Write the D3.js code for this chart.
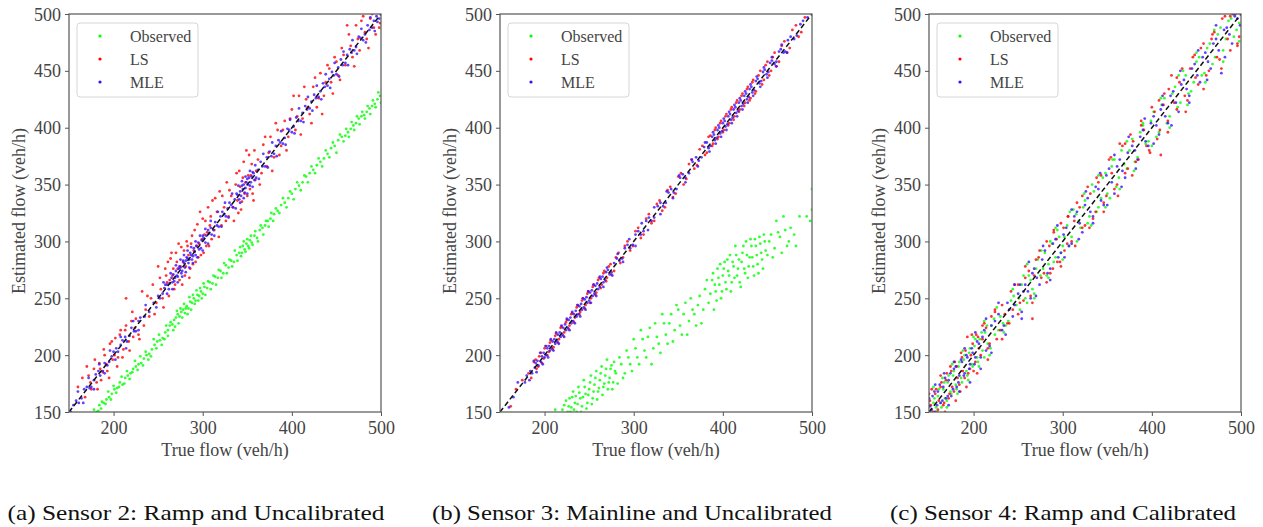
<!DOCTYPE html>
<html><head><meta charset="utf-8">
<script src="https://cdn.jsdelivr.net/npm/d3@7"></script>
<style>
html,body{margin:0;padding:0;background:#fff;}
svg text{font-family:"Liberation Serif","DejaVu Serif",serif;}
</style></head>
<body>
<svg id="chart" width="1263" height="527"></svg>
<script>
// ---- data (flat arrays of [trueFlow, estimatedFlow] pairs) ----
const seriesNames = ["Observed", "LS", "MLE"];
const seriesColors = ["#00ff00", "#ff0000", "#3a10ff"];
const xTicks = [200, 300, 400, 500];
const yTicks = [150, 200, 250, 300, 350, 400, 450, 500];
const captions = ["(a) Sensor 2: Ramp and Uncalibrated", "(b) Sensor 3: Mainline and Uncalibrated", "(c) Sensor 4: Ramp and Calibrated"];

const obsA = [176,148,178,152,181,150,184,156,186,153,189,158,192,161,195,163,198,166,201,170,204,171,207,176,210,174,213,180,216,182,219,184,222,188,225,190,228,192,231,193,234,197,237,200,240,201,243,205,246,209,249,212,252,213,255,215,258,220,261,222,263,226,266,227,268,231,270,233,272,236,274,234,276,238,278,240,280,237,282,243,284,241,286,247,288,246,290,250,292,248,294,253,296,252,298,256,300,254,302,260,305,259,308,264,311,263,314,269,317,268,320,274,323,272,326,279,329,277,332,283,335,282,338,288,341,290,343,287,345,296,347,293,349,298,351,296,353,301,355,299,358,305,361,303,364,310,367,312,370,314,373,318,376,320,380,324,384,327,388,332,392,334,396,338,400,342,404,346,408,349,412,352,416,357,420,360,424,363,428,367,432,370,436,373,440,377,444,382,448,384,452,389,456,392,460,393,463,396,466,399,469,402,472,404,475,408,478,410,481,411,484,414,487,417,490,419,493,421,496,425,499,428,
183,151,187,159,191,157,194,168,197,161,200,173,203,167,206,172,209,181,212,175,215,186,218,179,221,185,224,195,227,187,230,199,233,191,236,203,239,196,242,199,245,214,248,206,251,218,254,209,257,214,259,226,261,217,264,229,267,222,269,225,271,239,273,228,275,241,277,233,279,245,281,241,283,236,285,251,287,240,289,253,291,245,293,257,295,248,297,259,299,250,301,263,303,253,306,265,309,258,312,270,315,262,318,275,321,268,324,281,327,272,330,284,333,278,336,292,339,283,342,295,344,290,346,300,348,291,350,302,352,294,354,305,356,297,359,309,362,300,365,314,368,306,371,318,374,313,377,325,379,318,382,329,386,325,390,338,394,330,398,344,402,337,406,352,410,345,414,358,418,352,422,366,426,360,430,373,434,366,438,380,442,374,446,387,450,378,454,394,458,388,461,399,464,392,467,405,470,398,473,410,476,403,479,414,482,408,485,419,488,412,491,424,494,418,497,431,500,422];
const lsA = [160,172,165,180,168,163,172,182,175,170,178,188,181,176,184,193,186,178,188,185,190,200,193,186,196,210,199,196,202,215,205,198,208,222,211,205,214,226,214,250,217,212,220,230,222,216,225,232,228,218,232,256,236,240,240,234,244,262,248,246,252,268,255,250,258,276,260,264,262,252,264,285,266,270,268,258,270,290,272,276,274,266,276,295,278,282,280,270,282,300,284,288,286,276,288,305,290,292,292,282,294,315,296,298,298,288,300,320,302,306,304,296,306,330,308,314,310,302,314,338,318,304,322,340,326,318,330,345,334,330,338,360,340,325,342,348,344,335,346,370,348,352,350,340,352,376,354,358,356,342,358,380,360,362,364,350,368,385,372,366,376,392,380,374,384,398,388,384,392,406,396,392,400,416,404,398,408,428,412,408,416,425,420,412,424,436,428,418,432,448,436,428,440,455,444,440,448,462,452,446,456,470,460,455,464,482,468,462,472,490,476,468,480,498,484,478,488,496,492,488,496,505,499,492,
170,190,174,176,179,196,182,170,185,188,189,205,192,192,195,180,198,212,201,200,204,190,207,218,210,198,213,222,218,204,221,238,224,224,229,214,234,226,238,252,242,250,246,236,250,278,253,258,256,242,259,270,261,282,263,266,265,290,267,276,269,262,271,282,273,298,275,278,277,262,279,292,281,278,283,296,285,268,287,298,289,280,291,310,293,296,295,286,297,326,299,302,301,290,303,318,305,308,307,296,309,322,311,336,313,310,316,326,319,344,321,314,324,330,327,352,329,322,332,340,335,318,337,350,339,336,341,362,343,328,345,356,347,342,349,380,351,358,353,346,355,368,357,336,359,354,362,372,366,360,370,392,374,378,378,362,382,404,386,376,390,398,394,380,398,408,402,428,406,410,410,394,414,436,418,418,422,404,426,444,430,426,434,412,438,440,442,452,446,430,450,458,454,442,458,464,462,490,466,472,470,454,474,478,478,494,482,484,486,470,490,500,494,482,498,488];
const mleA = [152,150,158,160,164,162,170,172,175,172,180,183,185,182,190,193,195,194,200,203,205,203,210,213,215,212,220,224,225,221,230,233,240,238,250,252,255,254,258,262,262,258,265,268,268,265,270,274,272,269,274,278,276,272,278,283,280,277,282,286,284,281,286,290,288,284,290,294,292,288,295,299,298,294,300,305,303,299,306,310,310,306,314,317,318,313,322,326,326,322,330,334,334,330,338,342,341,337,344,349,347,343,350,355,353,349,356,361,360,356,365,370,370,366,375,379,380,377,385,389,390,386,395,399,400,396,405,409,410,406,415,419,420,417,425,429,430,427,435,439,440,437,445,449,450,447,455,460,460,457,465,469,470,468,475,480,480,477,485,490,490,488,495,498,498,496,
155,156,161,158,167,170,173,171,178,178,183,186,188,186,193,191,198,199,203,206,208,209,213,216,218,217,223,221,228,230,235,234,245,246,252,250,257,259,260,262,263,263,266,264,267,271,269,268,271,270,273,276,275,277,277,274,279,281,281,283,283,285,285,284,287,288,289,287,291,291,293,296,296,293,299,301,301,303,304,305,307,307,309,312,312,310,316,314,320,322,324,324,328,329,332,332,336,337,339,341,342,344,343,340,345,346,346,350,348,347,349,352,351,350,352,356,354,352,355,357,357,360,358,354,362,363,367,366,372,374,377,375,382,384,387,387,392,391,397,398,402,401,407,406,412,413,417,416,422,423,427,426,432,432,437,436,442,443,447,446,452,453,457,455,462,464,467,466,472,471,477,479,482,482,487,486,492,494,496,493,
160,168,166,158,172,180,178,170,184,192,190,184,196,204,202,196,208,216,214,206,222,230,228,222,236,244,248,242,256,264,260,254,264,272,266,258,270,279,272,264,275,284,277,269,279,288,281,273,283,292,285,277,287,295,289,281,292,300,294,286,297,305,300,292,303,311,306,298,309,318,313,305,317,326,321,313,325,334,329,321,333,342,337,329,340,349,342,334,344,353,346,338,348,357,350,342,353,362,356,348,359,367,363,355,368,377,373,365,378,387,383,375,388,397,393,385,398,407,403,395,408,417,413,405,418,427,423,415,428,437,433,425,438,447,443,435,448,457,453,445,458,467,463,455,468,477,473,465,478,487,483,475,488,497,493,485];

const obsB = [212,152,218,148,222,156,226,150,228,162,230,154,232,168,234,158,236,150,238,172,240,162,242,155,244,178,246,166,248,158,250,170,252,182,254,162,256,174,258,186,260,168,262,178,264,190,266,172,268,182,270,196,272,176,274,188,276,170,278,194,280,184,284,198,288,180,292,204,296,192,300,214,304,198,308,222,312,204,316,216,320,192,324,228,328,210,332,236,336,218,340,228,344,212,348,244,352,226,356,236,360,218,364,250,368,236,372,244,376,228,380,258,384,246,388,266,390,240,392,256,394,276,396,262,398,250,400,270,402,282,404,258,406,274,408,288,410,264,412,278,414,296,416,270,418,284,420,260,422,290,424,276,426,300,428,268,430,286,432,296,434,278,436,302,438,288,440,272,442,298,444,284,446,306,448,292,452,300,456,286,460,318,464,304,468,322,472,296,476,312,482,296,494,322,498,318,500,328,500,346,
214,146,220,152,224,160,227,155,229,150,231,163,233,152,235,164,237,157,239,167,241,150,243,163,245,172,247,153,249,165,251,176,253,157,255,168,257,180,259,161,261,171,263,184,265,165,267,175,269,188,271,170,273,180,275,191,277,176,279,186,282,175,286,192,290,184,294,198,298,186,302,206,306,192,310,214,314,198,318,224,322,206,326,216,330,202,334,228,338,210,342,236,346,222,350,240,354,218,358,246,362,230,366,240,370,226,374,252,378,240,382,266,386,254,389,272,391,262,393,248,395,268,397,280,399,256,401,276,403,264,405,284,407,270,409,256,411,282,413,268,415,288,417,276,419,264,421,282,423,296,425,272,427,288,429,278,431,302,433,286,435,270,437,296,439,280,441,304,443,290,445,276,447,300,450,288,454,306,458,294,462,308,466,290,470,310,474,300,480,306,486,322];
const lsB = [162,155,175,178,182,184,188,194,191,188,194,199,197,193,200,206,203,200,206,211,209,205,212,217,215,211,218,224,221,217,224,229,227,223,230,236,233,229,236,242,239,236,242,248,245,241,248,254,251,246,254,260,257,253,260,266,263,259,266,272,269,265,272,278,275,271,280,286,285,281,290,296,296,292,302,309,308,303,314,320,320,316,326,333,332,327,338,345,344,339,350,357,356,350,362,368,368,364,374,381,380,376,384,392,388,384,391,398,394,390,397,404,400,396,403,410,406,402,409,416,412,407,415,422,418,414,421,428,424,419,427,434,430,424,433,440,436,430,440,446,444,438,448,455,452,446,456,462,460,454,466,472,472,466,478,486,485,480,492,497,
168,170,185,180,190,196,193,190,196,202,199,197,202,208,205,203,207,213,210,207,213,219,216,214,219,225,222,220,225,231,228,226,231,237,234,233,237,244,240,238,243,250,246,244,249,256,252,250,255,262,258,255,261,268,264,262,267,274,270,268,274,280,278,274,283,290,288,286,293,300,299,296,305,312,311,306,317,324,323,318,329,336,335,330,341,348,347,342,353,360,359,355,365,372,371,367,377,384,382,378,386,393,389,386,392,400,395,392,398,406,401,398,404,412,407,404,410,418,413,410,416,424,419,416,422,430,425,422,428,436,431,426,434,442,437,432,442,450,446,442,450,458,454,450,458,466,463,458,469,476,475,470,482,490,488,484];
const mleB = [160,154,178,176,184,186,189,189,192,195,196,194,199,202,202,200,205,208,208,206,211,214,214,212,217,220,220,218,223,227,226,224,229,233,232,230,235,239,238,236,241,245,244,242,247,251,250,248,253,257,256,254,259,263,262,260,265,269,268,266,271,275,275,273,281,285,287,285,293,297,299,297,305,309,311,309,317,321,323,321,330,334,336,334,342,346,348,346,355,359,362,360,370,374,376,374,382,387,386,384,390,394,393,391,396,400,399,397,402,406,405,403,408,412,411,409,414,418,417,415,420,424,423,421,426,430,429,427,432,436,435,433,439,443,443,441,447,451,451,449,455,459,460,458,465,469,470,467,476,480,483,481,490,494,
165,163,180,182,186,184,190,193,193,191,197,199,200,198,203,206,206,204,209,212,212,210,215,218,218,216,221,224,224,222,227,231,230,228,233,236,236,234,239,243,242,240,245,249,248,246,251,255,254,252,257,261,260,258,263,267,266,264,269,273,273,271,278,281,284,283,290,294,296,294,302,306,308,306,314,318,320,318,327,331,333,331,339,343,345,343,352,356,358,356,366,370,373,371,379,383,384,382,388,392,391,389,394,398,397,395,400,404,403,401,406,410,409,407,412,416,415,413,418,422,421,419,424,428,427,425,430,434,433,431,437,441,441,439,445,449,449,447,453,457,458,456,463,467,468,466,473,477,480,478,487,491,495,497,
170,176,183,178,188,195,191,185,195,202,198,192,201,208,204,198,207,214,210,204,213,220,216,210,219,226,222,216,225,232,228,222,231,238,234,228,237,244,240,234,243,250,246,240,249,256,252,246,255,262,258,252,262,269,266,260,270,277,276,270,282,289,288,282,295,302,302,296,309,316,316,310,323,330,330,324,337,344,344,338,351,358,358,352,365,372,372,366,380,387,385,379,389,396,392,386,395,402,398,392,401,408,404,398,407,414,410,404,413,420,416,410,419,426,422,416,425,432,428,422,431,438,434,428,438,445,442,436,446,453,450,444,455,462,460,454,466,473,472,466];

const obsC = [152,150,155,158,158,154,160,164,163,158,166,170,168,162,171,176,174,168,177,182,180,174,183,190,186,180,189,196,192,186,195,202,198,192,201,208,204,198,207,214,210,204,213,220,216,210,220,226,224,218,230,234,236,226,242,248,248,244,254,262,258,250,262,270,266,258,270,276,275,270,280,290,284,280,288,298,292,286,296,304,300,296,305,314,310,304,315,324,320,312,325,336,330,322,335,344,340,330,345,356,350,342,355,366,360,348,366,380,372,364,378,390,384,374,390,402,396,388,402,414,408,396,414,426,420,410,426,436,432,422,438,446,444,432,450,458,456,446,462,470,468,456,474,482,480,468,486,494,492,480,498,492,
150,156,153,146,156,162,159,150,161,170,164,154,167,176,170,160,172,182,175,166,178,186,181,170,184,194,187,176,190,200,193,182,196,206,199,190,202,214,205,194,209,220,212,198,215,226,219,206,223,232,228,222,233,228,239,230,245,252,251,250,256,270,260,246,264,266,268,254,272,284,278,276,282,270,286,300,290,282,294,310,298,290,302,304,307,296,312,328,318,318,323,330,328,316,333,350,338,326,343,338,348,360,353,338,358,372,363,356,369,368,375,380,381,370,387,396,393,386,399,406,405,392,411,420,417,404,423,430,429,418,435,450,441,430,447,440,453,462,459,448,465,474,471,462,477,488,483,478,489,496,495,486,
155,172,160,146,165,180,170,154,176,192,182,166,188,204,194,178,200,216,206,190,212,230,218,200,226,242,234,220,244,258,252,240,260,280,268,250,276,292,284,268,292,312,300,284,308,326,316,300,324,342,332,314,340,358,348,330,356,372,364,346,372,388,380,362,390,404,400,384,410,426,420,400,430,446,440,420,450,466,460,440,470,486,480,458,490,500,498,476];
const lsC = [151,160,154,148,157,166,160,152,163,172,166,156,169,178,172,162,175,186,178,168,181,190,184,174,187,198,190,180,193,216,196,188,199,210,202,194,205,216,208,200,212,228,216,206,220,234,226,214,232,244,238,228,244,240,250,262,256,248,262,274,266,232,270,284,276,268,282,300,286,272,290,310,294,282,298,316,302,292,306,322,310,300,316,334,322,312,328,348,334,320,340,352,346,334,352,372,358,346,364,386,370,360,376,394,382,370,388,406,394,384,400,418,406,390,410,376,414,430,418,406,422,446,428,416,434,452,440,424,446,462,452,438,458,474,464,450,470,484,476,460,482,498,488,468,494,500,498,480,
150,166,152,156,155,150,158,170,161,160,164,176,167,158,170,184,173,166,176,172,179,194,182,180,185,168,188,186,191,204,194,184,197,200,200,186,203,218,206,206,210,214,214,224,218,210,224,238,230,222,235,236,240,228,246,262,252,246,258,268,264,252,268,270,273,286,279,272,285,296,289,276,293,302,297,282,301,312,305,298,313,318,319,330,325,314,331,342,337,326,343,358,349,340,355,360,361,350,367,384,373,364,379,388,385,372,391,398,397,380,403,414,409,398,413,420,419,434,425,422,431,440,437,428,443,452,449,444,455,470,461,446,467,478,473,462,479,496,485,478,491,500,496,474,
153,170,158,144,163,182,168,150,174,190,180,160,186,202,192,172,198,218,204,184,210,226,216,196,224,240,232,214,242,256,250,236,258,278,266,246,274,292,282,264,290,308,298,278,306,322,314,296,322,340,330,312,338,356,346,326,354,374,362,340,370,386,378,358,388,402,398,378,408,424,418,396,428,444,438,414,448,464,458,434,468,482,478,452,488,498,496,472];
const mleC = [150,162,153,152,156,168,159,156,162,174,165,160,168,180,171,164,174,184,177,170,180,190,183,176,186,196,189,182,192,200,195,188,198,206,201,192,204,212,208,198,212,222,218,208,224,230,232,222,238,246,244,234,250,254,254,232,258,262,264,250,268,276,274,262,280,292,286,276,292,302,298,290,304,312,310,298,316,326,322,308,328,338,334,322,340,346,346,332,352,364,358,342,364,372,370,356,378,384,384,372,390,398,396,384,402,410,408,394,412,420,418,404,424,432,430,414,436,442,442,428,448,456,454,440,460,466,466,452,472,478,478,448,484,488,490,474,496,496,
151,155,154,164,157,150,160,168,163,158,166,172,169,162,172,178,175,164,178,188,181,172,184,182,187,194,190,184,193,198,196,192,199,202,202,198,206,210,210,216,214,204,220,226,228,236,234,226,240,240,246,244,252,262,256,256,261,256,266,272,271,268,277,284,283,272,289,298,295,286,301,306,307,296,313,322,319,316,325,332,331,326,337,348,343,336,349,358,355,352,361,366,367,362,373,378,381,380,387,392,393,388,399,404,405,402,410,416,415,410,421,428,427,422,433,438,439,434,445,452,451,446,457,462,463,458,469,474,475,468,481,486,487,482,493,498,499,490,
157,174,162,148,167,184,172,156,178,194,184,168,190,206,196,176,202,220,208,188,214,232,220,202,228,246,236,218,246,262,254,238,262,282,270,252,278,296,286,266,294,314,302,286,310,328,318,302,326,344,334,316,342,360,350,332,358,376,366,348,374,392,382,364,392,408,402,386,412,428,422,402,432,450,442,422,452,468,462,442,472,490,482,462,492,500];

const panels = [
  {series: [obsA, lsA, mleA], left: 69},
  {series: [obsB, lsB, mleB], left: 500},
  {series: [obsC, lsC, mleC], left: 929}
];
const captionX = [196, 632, 1063];
const captionLen = [377, 400, 346];

// ---- drawing ----
const svg = d3.select("#chart");
const W = 312, H = 398, TOP = 14;
const pairs = arr => d3.range(0, arr.length, 2).map(i => [arr[i], arr[i+1]]);

panels.forEach((p, pi) => {
  const g = svg.append("g").attr("transform", `translate(${p.left},${TOP})`);
  const x = d3.scaleLinear().domain([150, 500]).range([0, W]);
  const y = d3.scaleLinear().domain([150, 500]).range([H, 0]);
  const clipId = "clip" + pi;
  g.append("clipPath").attr("id", clipId).append("rect").attr("width", W).attr("height", H);
  const plot = g.append("g").attr("clip-path", `url(#${clipId})`);

  p.series.forEach((arr, si) => {
    plot.append("g").selectAll("circle").data(pairs(arr)).join("circle")
      .attr("cx", d => x(d[0])).attr("cy", d => y(d[1])).attr("r", 1.4)
      .attr("fill", seriesColors[si]).attr("fill-opacity", 0.8);
  });
  // identity line
  plot.append("line").attr("x1", x(150)).attr("y1", y(150)).attr("x2", x(500)).attr("y2", y(500))
    .attr("stroke", "#111").attr("stroke-width", 1.5).attr("stroke-dasharray", "5,3");

  // axes
  const xa = g.append("g").attr("transform", `translate(0,${H})`)
    .call(d3.axisBottom(x).tickValues(xTicks).tickSize(4).tickPadding(5));
  const ya = g.append("g").call(d3.axisLeft(y).tickValues(yTicks).tickSize(4).tickPadding(4));
  [xa, ya].forEach(a => {
    a.select(".domain").remove();
    a.selectAll("line").attr("stroke", "#555").attr("stroke-width", 1);
    a.selectAll("text").attr("fill", "#444").style("font-size", "18px")
      .style("font-family", '"Liberation Serif","DejaVu Serif",serif');
  });
  ya.selectAll("text").attr("dy", "0.34em");
  // frame
  g.append("rect").attr("width", W).attr("height", H).attr("fill", "none")
    .attr("stroke", "#555").attr("stroke-width", 1.2);

  // axis labels
  g.append("text").attr("x", W / 2).attr("y", H + 44).attr("text-anchor", "middle")
    .attr("fill", "#444").style("font-size", "18px").text("True flow (veh/h)");
  g.append("text").attr("transform", `translate(-44,${H / 2 - 2}) rotate(-90)`).attr("text-anchor", "middle")
    .attr("fill", "#444").style("font-size", "18px").text("Estimated flow (veh/h)");

  // legend
  const lg = g.append("g").attr("transform", "translate(8,9)");
  lg.append("rect").attr("width", 121).attr("height", 74).attr("rx", 3)
    .attr("fill", "#fff").attr("fill-opacity", 0.85).attr("stroke", "#d6d6d6");
  seriesNames.forEach((n, i) => {
    lg.append("circle").attr("cx", 23).attr("cy", 13 + i * 23).attr("r", 1.6).attr("fill", seriesColors[i]);
    lg.append("text").attr("x", 53).attr("y", 13 + i * 23).attr("dy", "0.35em")
      .attr("fill", "#444").style("font-size", "16px").text(n);
  });

  // caption
  svg.append("text").attr("x", captionX[pi]).attr("y", 520).attr("text-anchor", "middle")
    .attr("fill", "#111").style("font-size", "22px")
    .attr("textLength", captionLen[pi]).attr("lengthAdjust", "spacingAndGlyphs")
    .text(captions[pi]);
});
</script>
</body></html>
